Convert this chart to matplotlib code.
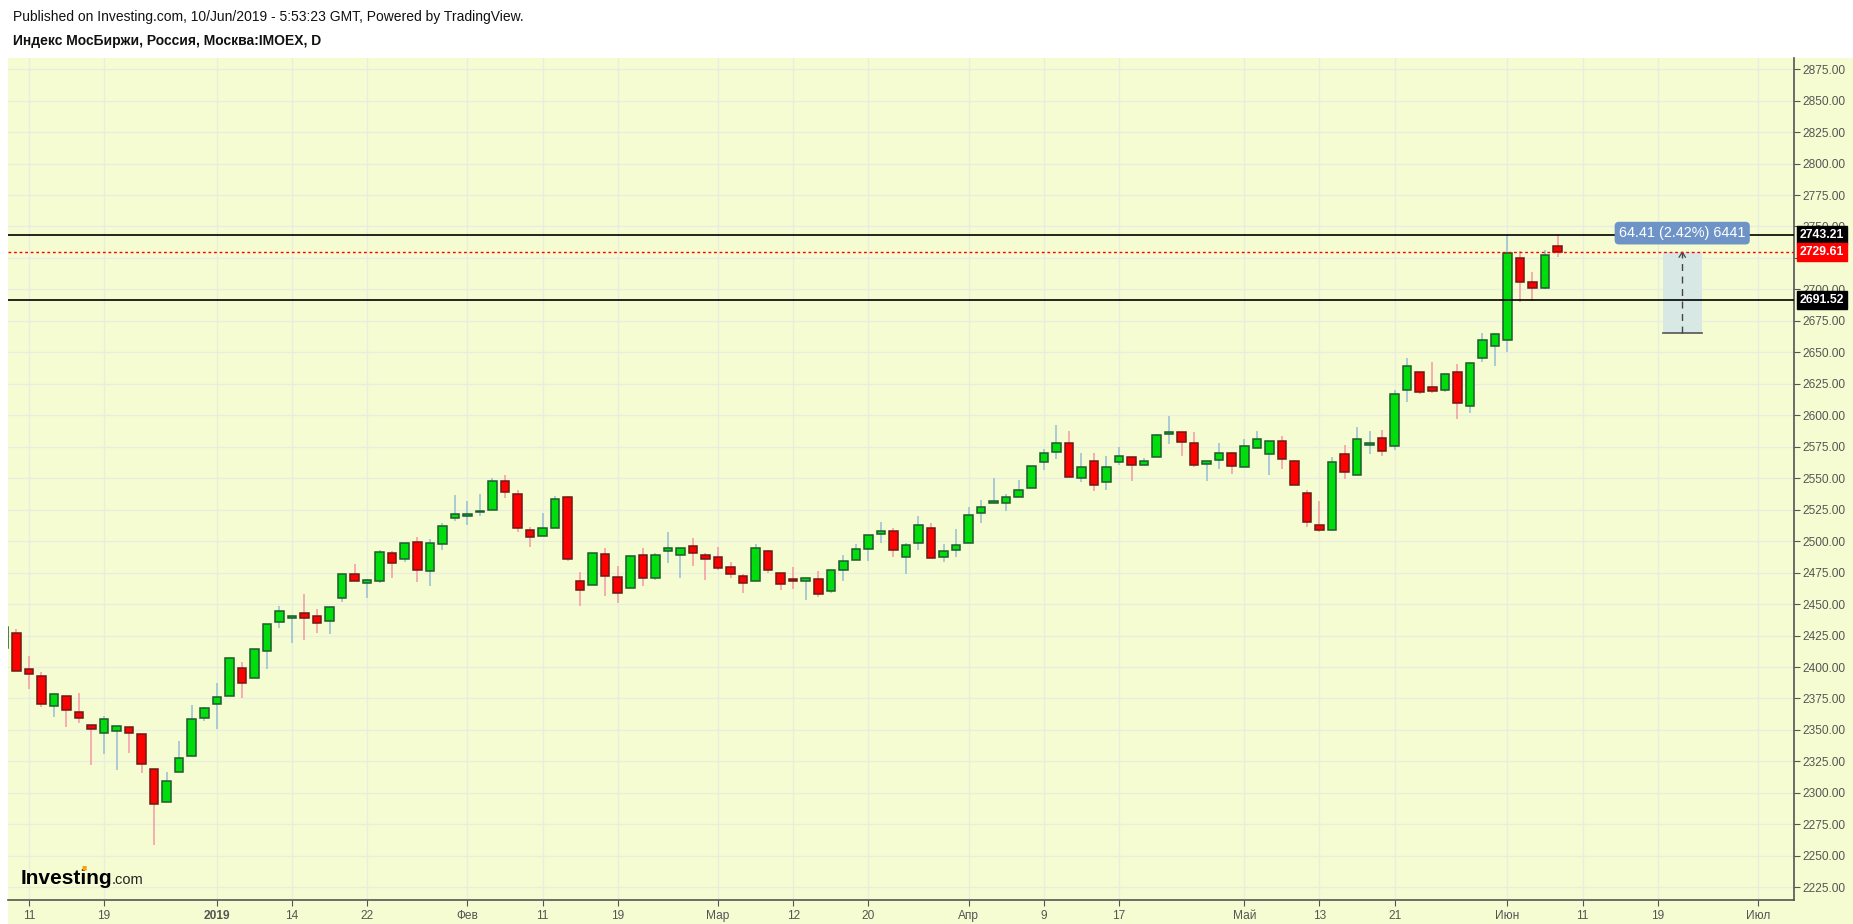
import matplotlib
matplotlib.use('Agg')
import matplotlib.pyplot as plt
from matplotlib.patches import Rectangle
import numpy as np

# daily candles, 7 Dec 2018 .. 7 Jun 2019 (first one is cut by the left edge)
opens = [2414.8, 2426.7, 2398.1, 2392.5, 2368.7, 2376.6, 2363.9, 2353.6, 2347.3, 2348.8,
         2352.0, 2346.5, 2318.7, 2292.4, 2316.7, 2329.7, 2359.2, 2370.3, 2377.2, 2399.2,
         2391.0, 2412.9, 2435.4, 2438.6, 2442.6, 2440.4, 2436.4, 2454.7, 2473.7, 2466.6,
         2468.2, 2490.4, 2485.7, 2499.2, 2476.1, 2497.6, 2518.2, 2519.8, 2523.0, 2524.6,
         2547.6, 2537.3, 2508.7, 2503.9, 2510.8, 2534.9, 2468.2, 2465.0, 2489.6, 2471.4,
         2462.7, 2488.9, 2470.6, 2492.1, 2488.9, 2496.0, 2488.9, 2487.3, 2479.3, 2472.2,
         2468.2, 2492.1, 2474.6, 2469.8, 2468.2, 2469.8, 2460.3, 2477.0, 2484.9, 2493.6,
         2505.6, 2507.9, 2487.7, 2498.2, 2510.8, 2487.7, 2493.3, 2498.8, 2522.7, 2530.6,
         2530.6, 2535.4, 2542.5, 2563.2, 2571.1, 2578.3, 2550.5, 2564.0, 2547.3, 2563.2,
         2567.2, 2560.8, 2567.2, 2585.4, 2587.0, 2578.3, 2561.0, 2564.2, 2569.8, 2558.6,
         2573.7, 2569.0, 2579.3, 2563.4, 2538.0, 2512.6, 2508.6, 2569.0, 2552.3, 2576.1,
         2581.7, 2575.3, 2619.8, 2634.1, 2622.2, 2619.8, 2634.1, 2607.1, 2645.2, 2654.9,
         2660.0, 2725.1, 2706.0, 2701.3, 2734.6]
highs = [2433.0, 2429.9, 2408.7, 2396.0, 2379.0, 2376.6, 2379.3, 2354.0, 2361.0, 2352.8,
         2352.0, 2346.5, 2318.7, 2316.5, 2341.1, 2369.8, 2368.6, 2387.2, 2406.9, 2404.0,
         2414.0, 2434.0, 2448.4, 2441.0, 2458.0, 2446.2, 2447.5, 2473.7, 2482.0, 2469.8,
         2493.1, 2492.0, 2498.4, 2503.4, 2501.5, 2514.5, 2536.8, 2532.0, 2537.6, 2550.0,
         2552.6, 2540.7, 2511.3, 2522.5, 2536.0, 2536.0, 2475.6, 2490.4, 2494.7, 2480.4,
         2488.1, 2494.7, 2490.7, 2507.4, 2494.4, 2502.6, 2490.7, 2495.5, 2483.3, 2473.8,
         2497.9, 2492.8, 2474.6, 2479.6, 2470.6, 2476.4, 2477.0, 2489.1, 2497.9, 2504.8,
         2515.4, 2510.3, 2498.6, 2519.8, 2514.2, 2497.5, 2509.4, 2526.9, 2532.5, 2550.0,
         2537.8, 2548.4, 2560.0, 2573.5, 2592.1, 2587.3, 2569.8, 2569.8, 2567.4, 2574.6,
         2567.2, 2566.4, 2585.4, 2599.2, 2587.0, 2587.0, 2563.4, 2578.0, 2570.6, 2581.2,
         2587.5, 2579.3, 2583.5, 2564.2, 2540.6, 2531.9, 2566.9, 2576.4, 2590.7, 2587.5,
         2588.3, 2620.1, 2645.2, 2634.1, 2642.3, 2632.5, 2640.7, 2642.1, 2665.1, 2664.7,
         2743.2, 2730.9, 2713.5, 2731.7, 2742.9]
lows = [2412.0, 2396.5, 2382.7, 2367.9, 2360.5, 2352.5, 2355.8, 2322.4, 2331.2, 2318.1,
        2332.0, 2316.0, 2258.8, 2292.4, 2316.7, 2329.7, 2357.5, 2351.0, 2377.2, 2375.6,
        2391.0, 2398.6, 2431.2, 2419.3, 2421.7, 2427.4, 2426.6, 2452.0, 2468.2, 2455.2,
        2467.1, 2471.1, 2483.8, 2467.9, 2464.7, 2493.3, 2516.4, 2513.2, 2520.3, 2524.6,
        2534.6, 2507.6, 2495.7, 2503.9, 2510.8, 2484.3, 2448.8, 2465.0, 2456.8, 2451.2,
        2462.7, 2464.0, 2468.8, 2482.3, 2471.1, 2479.9, 2468.8, 2477.0, 2470.6, 2458.7,
        2468.2, 2474.6, 2461.1, 2461.9, 2453.1, 2455.5, 2458.7, 2468.2, 2484.9, 2484.6,
        2498.9, 2487.3, 2474.2, 2493.3, 2486.9, 2483.5, 2487.5, 2498.8, 2514.5, 2530.6,
        2524.0, 2535.4, 2542.5, 2556.6, 2565.3, 2551.3, 2547.0, 2539.9, 2540.7, 2560.8,
        2547.8, 2560.8, 2567.2, 2577.5, 2568.0, 2559.0, 2548.1, 2557.6, 2553.6, 2558.6,
        2573.7, 2552.8, 2557.6, 2544.3, 2511.5, 2507.0, 2508.6, 2549.6, 2552.3, 2569.5,
        2567.9, 2572.7, 2610.8, 2616.6, 2617.4, 2618.2, 2596.8, 2601.5, 2642.6, 2639.0,
        2650.2, 2690.2, 2690.4, 2700.0, 2725.4]
closes = [2432.0, 2396.5, 2394.1, 2370.3, 2378.2, 2365.5, 2359.2, 2350.4, 2358.4, 2352.8,
          2347.3, 2322.6, 2290.9, 2309.1, 2328.1, 2358.4, 2367.5, 2375.8, 2406.9, 2387.3,
          2414.0, 2433.8, 2444.2, 2440.5, 2439.1, 2434.8, 2447.5, 2473.7, 2468.2, 2469.0,
          2491.2, 2482.5, 2498.4, 2476.9, 2498.4, 2511.9, 2521.4, 2521.4, 2523.8, 2547.6,
          2539.4, 2510.3, 2503.1, 2510.3, 2533.3, 2485.7, 2461.0, 2490.4, 2472.7, 2458.6,
          2488.1, 2470.6, 2488.9, 2494.4, 2494.4, 2490.5, 2485.7, 2478.6, 2473.8, 2466.6,
          2494.4, 2477.0, 2465.8, 2468.2, 2470.6, 2457.9, 2477.0, 2484.1, 2493.6, 2504.8,
          2507.9, 2492.9, 2497.3, 2512.5, 2486.9, 2492.5, 2497.3, 2521.1, 2527.4, 2532.2,
          2535.4, 2540.9, 2560.0, 2570.3, 2578.3, 2551.3, 2559.2, 2544.9, 2559.2, 2568.0,
          2560.8, 2564.0, 2584.6, 2587.0, 2579.1, 2560.8, 2563.4, 2569.8, 2559.4, 2575.3,
          2580.9, 2579.3, 2565.0, 2544.3, 2515.0, 2508.6, 2562.6, 2554.7, 2580.9, 2577.7,
          2571.4, 2616.6, 2638.9, 2618.2, 2619.0, 2632.5, 2609.5, 2641.3, 2659.5, 2664.7,
          2729.1, 2706.0, 2701.3, 2727.5, 2729.61]

# date axis (bar index of each label)
tick_pos = [2, 8, 17, 23, 29, 37, 43, 49, 57, 63, 69, 77, 83, 89, 99, 105, 111, 120, 126, 132, 140]
tick_labels = ['11', '19', '2019', '14', '22', 'Фев', '11', '19', 'Мар', '12', '20',
               'Апр', '9', '17', 'Май', '13', '21', 'Июн', '11', '19', 'Июл']
price_ticks = np.arange(2225, 2876, 25)

# drawn levels and the price-range measurement
level_high = 2743.21
level_low = 2691.52
last_close = 2729.61
measure_from = 2665.20
measure_to = 2729.61
measure_left, measure_right = 132.4, 135.5
measure_text = '64.41 (2.42%) 6441'

bg = '#F6FCD1'
up_fill, up_edge, up_wick = '#00DD0C', '#1F5A2E', '#9DC2D6'
dn_fill, dn_edge, dn_wick = '#FF0000', '#6E1A16', '#F4A0A8'

W, H = 1853, 924
fig = plt.figure(figsize=(W / 100, H / 100), dpi=100)
fig.patch.set_facecolor('white')
fig.patches.append(Rectangle((8 / W, 0), 1 - 8 / W, (H - 58) / H, transform=fig.transFigure,
                             facecolor=bg, edgecolor='none', zorder=-10))

ax = fig.add_axes([8 / W, (H - 900) / H, (1794 - 8) / W, (900 - 58) / H])
ax.set_facecolor(bg)
ax.set_xlim(0.338, 142.87)
ax.set_ylim(2214.9, 2883.85)

x = np.arange(len(opens))
o = np.array(opens); c = np.array(closes)
up = c >= o
for mask, fill, edge, wick in [(up, up_fill, up_edge, up_wick), (~up, dn_fill, dn_edge, dn_wick)]:
    ax.vlines(x[mask], np.array(lows)[mask], np.array(highs)[mask], color=wick, linewidth=1.2, zorder=2)
    body_lo = np.minimum(o, c)[mask]
    body_h = np.maximum(np.abs(c - o)[mask], 0.8)
    ax.bar(x[mask], body_h, bottom=body_lo, width=0.68, color=fill, edgecolor=edge,
           linewidth=1.1, zorder=3)

# grid
ax.set_yticks(price_ticks)
ax.set_xticks(tick_pos)
ax.grid(True, color='#E8EDE0', linewidth=1, zorder=0)
ax.set_axisbelow(True)

# axes look
for s in ['left', 'top']:
    ax.spines[s].set_visible(False)
for s in ['bottom', 'right']:
    ax.spines[s].set_color('#555555')
    ax.spines[s].set_linewidth(1.2)
ax.yaxis.tick_right()
ax.set_yticklabels(['%.2f' % v for v in price_ticks])
ax.tick_params(axis='y', colors='#555555', labelcolor='#555555', labelsize=8.6, length=4, pad=2)
ax.set_xticklabels(tick_labels)
ax.tick_params(axis='x', colors='#555555', labelcolor='#555555', labelsize=8.6, length=4, pad=3)
for lab in ax.get_xticklabels():
    lab.set_family(['Liberation Sans Narrow', 'Liberation Sans'])
    if lab.get_text() == '2019':
        lab.set_fontweight('bold')
for lab in ax.get_yticklabels():
    lab.set_family('Liberation Sans')

# horizontal levels
ax.axhline(level_high, color='black', linewidth=1.2, zorder=4)
ax.axhline(level_low, color='black', linewidth=1.2, zorder=4)
ax.axhline(last_close, color='red', linewidth=1, linestyle=(0, (2, 2)), zorder=4)

# price tags on the right scale
for val, col in [(level_high, 'black'), (last_close, 'red'), (level_low, 'black')]:
    ax.annotate('%.2f' % val, xy=(1.0, val), xycoords=('axes fraction', 'data'),
                xytext=(4, 0), textcoords='offset points', va='center', ha='left',
                color='white', fontsize=8.8, fontweight='bold', family='Liberation Sans',
                bbox=dict(boxstyle='square,pad=0.22', facecolor=col, edgecolor=col),
                annotation_clip=False, zorder=6)

# measurement tool
ax.add_patch(Rectangle((measure_left, measure_from), measure_right - measure_left,
                       measure_to - measure_from, facecolor='#D8E8E4', edgecolor='none', zorder=2))
ax.plot([measure_left, measure_right], [measure_from, measure_from], color='#555555', linewidth=1.2, zorder=3)
mid = (measure_left + measure_right) / 2
ax.plot([mid, mid], [measure_from, measure_to], color='#444444', linewidth=1,
        linestyle=(0, (5, 4)), zorder=3)
ax.plot([mid - 0.25, mid, mid + 0.25], [measure_to - 4, measure_to, measure_to - 4],
        color='#444444', linewidth=0.9, zorder=3)
ax.text(mid, level_high + 1.5, measure_text, ha='center', va='center', color='white',
        fontsize=10.4, family='Liberation Sans', zorder=7,
        bbox=dict(boxstyle='round,pad=0.3,rounding_size=0.3', facecolor='#6E93C6', edgecolor='none'))

# header
fig.text(13 / W, 1 - 17 / H, 'Published on Investing.com, 10/Jun/2019 - 5:53:23 GMT, Powered by TradingView.',
         fontsize=10, family='Liberation Sans', va='center', ha='left', color='#111111')
fig.text(13 / W, 1 - 41 / H, 'Индекс МосБиржи, Россия, Москва:IMOEX, D',
         fontsize=10, fontweight='bold', family='Liberation Sans', va='center', ha='left', color='#111111')

# logo
fig.text(21 / W, 1 - 878 / H, 'Investing', fontsize=15, fontweight='bold', family='Liberation Sans',
         va='center', ha='left', color='black')
fig.text(112 / W, 1 - 880 / H, '.com', fontsize=10.5, family='Liberation Sans',
         va='center', ha='left', color='#222222')
fig.text(84 / W, 1 - 868 / H, '\u25a0', fontsize=4, color='#F7A21B', va='center', ha='center')

fig.savefig('out.png', dpi=100, facecolor=fig.get_facecolor())
